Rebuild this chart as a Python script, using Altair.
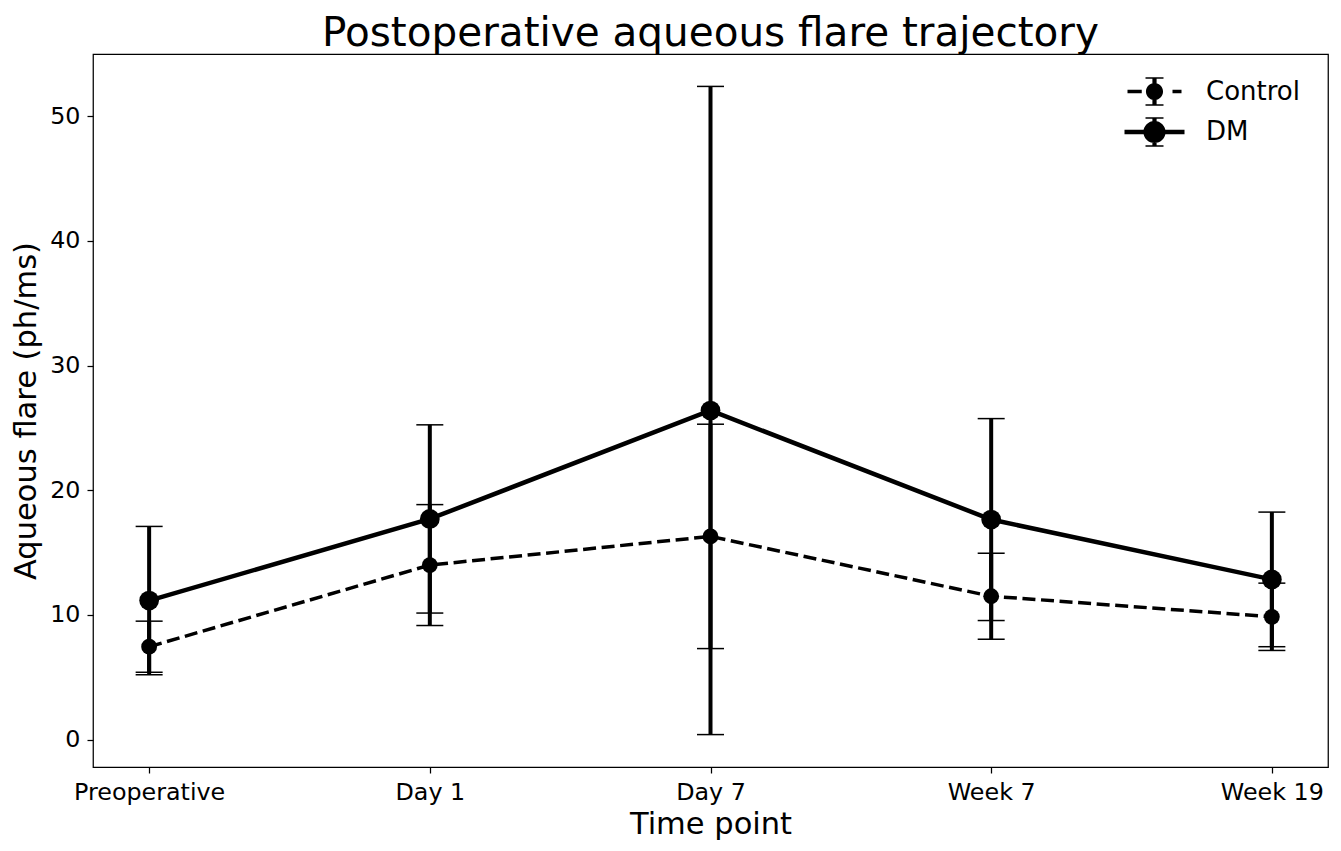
import altair as alt
import pandas as pd

# ---- data ----
time_points = ["Preoperative", "Day 1", "Day 7", "Week 7", "Week 19"]
control_mean = [7.45, 14.0, 16.3, 11.5, 9.85]
control_err = [2.05, 4.85, 9.0, 3.45, 2.7]
dm_mean = [11.15, 17.7, 26.4, 17.65, 12.85]
dm_err = [5.95, 7.55, 26.0, 8.1, 5.4]
series = ["Control", "DM"]
y_ticks = [0, 10, 20, 30, 40, 50]

rows = []
for t, m, e in zip(time_points, control_mean, control_err):
    rows.append({"time": t, "series": "Control", "mean": m, "err": e})
for t, m, e in zip(time_points, dm_mean, dm_err):
    rows.append({"time": t, "series": "DM", "mean": m, "err": e})
df = pd.DataFrame(rows)

FONT = "DejaVu Sans"


# ---- legend glyphs (matplotlib-style errorbar handles), unit r = 15px ----
def rect(x0, y0, x1, y1):
    return f"M{x0},{y0}L{x1},{y0}L{x1},{y1}L{x0},{y1}Z"


def circ(r):
    return f"M{-r},0A{r},{r} 0 1 1 {r},0A{r},{r} 0 1 1 {-r},0Z"


def caps(h, w=0.6, t=0.05):
    return rect(-w, -h - t, w, -h + t) + rect(-w, h - t, w, h + t)


ctrl_path = (rect(-1.8, -0.117, -0.85, 0.117) + rect(1.2, -0.117, 1.8, 0.117)
             + rect(-0.14, -0.9, 0.14, 0.9) + caps(0.9) + circ(0.57))
dm_path = (rect(-2.0, -0.15, 2.0, 0.15) + rect(-0.14, -0.93, 0.14, 0.93)
           + caps(0.93) + circ(0.74))

x_enc = alt.X(
    "time:N",
    sort=time_points,
    scale=alt.Scale(type="point", padding=0.2),
    axis=alt.Axis(title="Time point", labelAngle=0, titlePadding=6),
)
y_scale = alt.Scale(domain=[-2.2, 55.0], nice=False, zero=False)
y_axis = alt.Axis(title="Aqueous flare (ph/ms)", values=y_ticks)

base = alt.Chart(df).transform_calculate(
    lo="datum.mean - datum.err", hi="datum.mean + datum.err"
)

bars = base.mark_rule(color="black", strokeWidth=4).encode(
    x=x_enc,
    y=alt.Y("lo:Q", scale=y_scale, axis=y_axis),
    y2="hi:Q",
)
caps_lo = base.mark_tick(color="black", size=27, thickness=1.5, opacity=1).encode(
    x=x_enc, y=alt.Y("lo:Q", scale=y_scale, axis=y_axis)
)
caps_hi = base.mark_tick(color="black", size=27, thickness=1.5, opacity=1).encode(
    x=x_enc, y=alt.Y("hi:Q", scale=y_scale, axis=y_axis)
)

ctrl = base.transform_filter("datum.series == 'Control'")
dm = base.transform_filter("datum.series == 'DM'")

ctrl_line = ctrl.mark_line(color="black", strokeWidth=3.5, strokeDash=[13, 5.6]).encode(
    x=x_enc, y=alt.Y("mean:Q", scale=y_scale, axis=y_axis)
)
dm_line = dm.mark_line(color="black", strokeWidth=4.5).encode(
    x=x_enc, y=alt.Y("mean:Q", scale=y_scale, axis=y_axis)
)
ctrl_pts = ctrl.mark_point(filled=True, color="black", opacity=1, shape="circle", size=250).encode(
    x=x_enc, y=alt.Y("mean:Q", scale=y_scale, axis=y_axis)
)
dm_pts = dm.mark_point(filled=True, color="black", opacity=1, shape="circle", size=390).encode(
    x=x_enc, y=alt.Y("mean:Q", scale=y_scale, axis=y_axis)
)

# layer that only carries the legend: its points are pushed outside the clipped plot area
legend_layer = base.mark_point(
    filled=True, color="black", opacity=1, size=900, clip=True
).encode(
    x=x_enc,
    y=alt.Y("hi:Q", scale=y_scale, axis=y_axis),
    yOffset=alt.value(-3000),
    shape=alt.Shape(
        "series:N",
        scale=alt.Scale(domain=series, range=[ctrl_path, dm_path]),
        legend=alt.Legend(
            title=None,
            orient="none",
            legendX=1046,
            legendY=22,
            padding=0,
            labelOffset=36,
            labelFontSize=26,
            labelFont=FONT,
            labelColor="black",
            symbolSize=900,
            symbolFillColor="black",
            symbolStrokeColor="black",
            symbolStrokeWidth=0.01,
            symbolOpacity=1,
        ),
    ),
)

chart = (
    alt.layer(bars, caps_lo, caps_hi, ctrl_line, dm_line, ctrl_pts, dm_pts, legend_layer)
    .properties(
        width=1235,
        height=713,
        title=alt.Title(
            "Postoperative aqueous flare trajectory",
            fontSize=40.5,
            font=FONT,
            fontWeight="normal",
            color="black",
            offset=0,
            anchor="middle",
        ),
        padding={"left": 3, "top": 5, "right": 5, "bottom": 0},
    )
    .configure(font=FONT)
    .configure_view(stroke="black", strokeWidth=1.25)
    .configure_legend(rowPadding=10.5)
    .configure_axis(
        domain=False,
        grid=False,
        ticks=True,
        tickColor="black",
        tickWidth=1.25,
        tickSize=6,
        labelFont=FONT,
        labelFontSize=23.8,
        labelColor="black",
        labelPadding=7,
        titleFont=FONT,
        titleFontSize=30.5,
        titleFontWeight="normal",
        titleColor="black",
        titlePadding=8,
    )
)

chart.save("out.html", embed_options={"renderer": "svg", "actions": False})
